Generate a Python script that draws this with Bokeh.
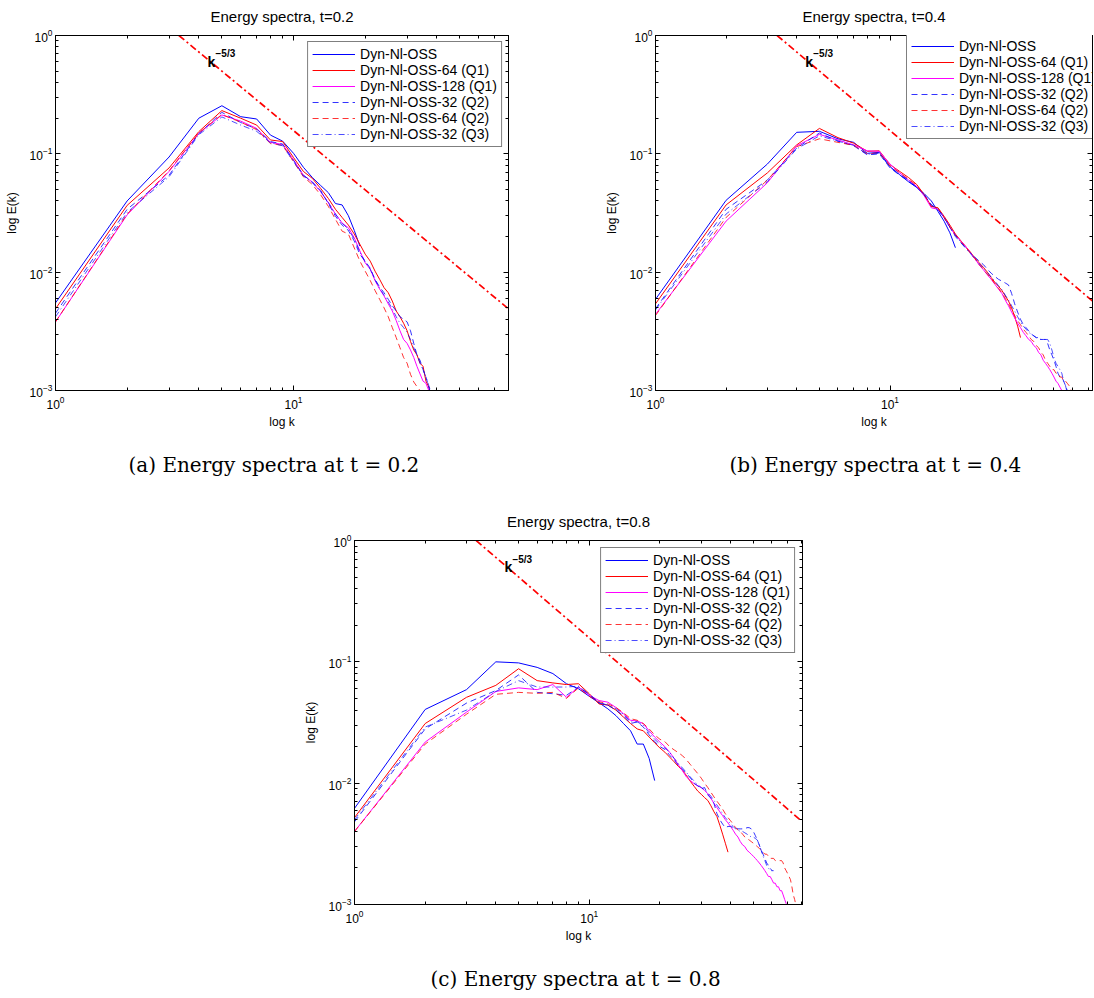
from bokeh.plotting import figure
from bokeh.models import (Range1d, FixedTicker, LogAxis, LogTicker, LogTickFormatter, Title, Spacer,
                          CustomJSTickFormatter)
from bokeh.layouts import column, row
from bokeh.core.properties import value
from bokeh.embed import file_html
from bokeh.resources import INLINE

# ---------------- data ----------------
series_labels = ["Dyn-Nl-OSS", "Dyn-Nl-OSS-64 (Q1)", "Dyn-Nl-OSS-128 (Q1)",
                 "Dyn-Nl-OSS-32 (Q2)", "Dyn-Nl-OSS-64 (Q2)", "Dyn-Nl-OSS-32 (Q3)"]
panel_titles = ["Energy spectra, t=0.2", "Energy spectra, t=0.4", "Energy spectra, t=0.8"]
panel_captions = ["(a)  Energy spectra at t = 0.2", "(b)  Energy spectra at t = 0.4",
                  "(c)  Energy spectra at t = 0.8"]

x_major = [1, 10]
x_minor = [2, 3, 4, 5, 6, 7, 8, 9, 20, 30, 40, 50, 60, 70, 80]
y_major = [0.001, 0.01, 0.1, 1]
y_minor = [0.002, 0.003, 0.004, 0.005, 0.006, 0.007, 0.008, 0.009,
           0.02, 0.03, 0.04, 0.05, 0.06, 0.07, 0.08, 0.09,
           0.2, 0.3, 0.4, 0.5, 0.6, 0.7, 0.8, 0.9]

# k^-5/3 reference line endpoints and its label position
ref_k = [3.3, 80]
ref_E = [1.0, 0.0049]
lab_k = [4.35]
lab_E = [0.6]

# t = 0.2  (E(k) for k = 1, 2, 3, ...)
a_oss = [0.0055, 0.040, 0.094, 0.20, 0.255, 0.206, 0.197, 0.144, 0.128, 0.101, 0.077, 0.063,
         0.054, 0.047, 0.038, 0.037, 0.030, 0.0225, 0.0166]
a_q1_64 = [0.0049, 0.0367, 0.076, 0.154, 0.232, 0.20, 0.175, 0.131, 0.127, 0.093, 0.071, 0.062,
           0.051, 0.042, 0.034, 0.029, 0.025, 0.021, 0.0172, 0.0142, 0.0124, 0.0102, 0.0087,
           0.0074, 0.0067, 0.0057, 0.0047, 0.0042, 0.0037, 0.0032, 0.0026, 0.0022, 0.0020,
           0.0017, 0.0016, 0.0012, 0.00107, 0.00085]
a_q1_128 = [0.0038, 0.0305, 0.071, 0.149, 0.213, 0.189, 0.164, 0.125, 0.120, 0.089, 0.066, 0.0575,
            0.048, 0.0385, 0.031, 0.026, 0.0237, 0.0195, 0.0151, 0.012, 0.0106, 0.0085, 0.0072,
            0.0063, 0.0054, 0.0047, 0.0039, 0.0032, 0.0027, 0.0025, 0.0022, 0.0019, 0.0016,
            0.00138, 0.0012, 0.00115, 0.0010, 0.00085]
a_q2_32 = [0.0045, 0.034, 0.066, 0.148, 0.224, 0.184, 0.162, 0.127, 0.121, 0.088, 0.066, 0.058,
           0.049, 0.038, 0.0297, 0.025, 0.0225, 0.0183, 0.0141, 0.0124, 0.0108, 0.0087, 0.0075,
           0.0067, 0.0059, 0.0052, 0.0047, 0.0042, 0.0040, 0.0038, 0.0032, 0.0025, 0.0020,
           0.0018, 0.0015, 0.0013, 0.00107, 0.0009]
a_q2_64 = [0.0038, 0.031, 0.072, 0.150, 0.215, 0.185, 0.160, 0.122, 0.118, 0.086, 0.064, 0.055,
           0.045, 0.036, 0.028, 0.0222, 0.021, 0.016, 0.0124, 0.0102, 0.0085, 0.0070, 0.0059,
           0.0050, 0.0042, 0.0034, 0.0028, 0.0023, 0.0019, 0.0017, 0.00137, 0.00118, 0.00108,
           0.00100, 0.0009]
a_q3_32 = [0.0042, 0.032, 0.064, 0.145, 0.205, 0.175, 0.155, 0.124, 0.117, 0.086, 0.065, 0.057,
           0.048, 0.039, 0.031, 0.026, 0.023, 0.019, 0.0148, 0.0122, 0.0106, 0.0086, 0.0073,
           0.0064, 0.0056, 0.0049, 0.0042, 0.0037, 0.0034, 0.0031, 0.0027, 0.0023, 0.0020,
           0.0017, 0.0015, 0.0013, 0.0011, 0.00095]

# t = 0.4
b_oss = [0.0059, 0.0405, 0.082, 0.152, 0.155, 0.134, 0.125, 0.101, 0.103, 0.078, 0.0665, 0.058,
         0.052, 0.046, 0.040, 0.0327, 0.027, 0.0215, 0.0161]
b_q1_64 = [0.0054, 0.037, 0.069, 0.119, 0.164, 0.137, 0.123, 0.105, 0.106, 0.081, 0.071, 0.063,
           0.055, 0.045, 0.036, 0.035, 0.0297, 0.025, 0.021, 0.0185, 0.0165, 0.0148, 0.0132,
           0.0120, 0.0110, 0.0100, 0.0090, 0.0082, 0.0076, 0.0070, 0.0063, 0.0057, 0.0050,
           0.0042, 0.0035, 0.0028]
b_q1_128 = [0.0044, 0.027, 0.057, 0.117, 0.146, 0.131, 0.119, 0.106, 0.105, 0.082, 0.069, 0.060,
            0.053, 0.044, 0.035, 0.034, 0.029, 0.024, 0.0205, 0.0185, 0.0165, 0.0146, 0.013,
            0.0115, 0.0105, 0.0095, 0.0087, 0.0079, 0.0072, 0.0066, 0.0058, 0.0052, 0.0046,
            0.0041, 0.0037, 0.0034, 0.0031, 0.0029, 0.0027, 0.0026, 0.0024, 0.0023, 0.0021,
            0.0020, 0.0018, 0.0017, 0.0016, 0.0015, 0.0014, 0.0013, 0.0012, 0.00115, 0.00107,
            0.0010, 0.00093]
b_q2_32 = [0.0049, 0.034, 0.060, 0.112, 0.150, 0.128, 0.117, 0.098, 0.100, 0.076, 0.066, 0.059,
           0.052, 0.045, 0.037, 0.034, 0.029, 0.024, 0.020, 0.0178, 0.016, 0.0146, 0.0134,
           0.0124, 0.0116, 0.0106, 0.0098, 0.0092, 0.0087, 0.0084, 0.0081, 0.0078, 0.0066,
           0.0054, 0.0046, 0.0040, 0.0036, 0.0034, 0.0032, 0.0030, 0.0029, 0.0028, 0.0027,
           0.0027, 0.0027, 0.0027, 0.0025, 0.0022, 0.0020, 0.0018, 0.0016, 0.0014, 0.0013,
           0.0013, 0.0012, 0.0011, 0.0010, 0.0009]
b_q2_64 = [0.0043, 0.029, 0.060, 0.115, 0.134, 0.125, 0.118, 0.100, 0.102, 0.079, 0.069, 0.061,
           0.054, 0.045, 0.036, 0.035, 0.029, 0.024, 0.0205, 0.0183, 0.0163, 0.0145, 0.013,
           0.0116, 0.0106, 0.0096, 0.0088, 0.008, 0.0073, 0.0067, 0.006, 0.0054, 0.0048,
           0.0043, 0.0039, 0.0036, 0.0033, 0.0031, 0.0029, 0.0027, 0.0026, 0.0024, 0.0023,
           0.0021, 0.0020, 0.0018, 0.0017, 0.0016, 0.0015, 0.0015, 0.0014, 0.0014, 0.0013,
           0.0013, 0.0012, 0.0012, 0.00115, 0.0011, 0.00102, 0.00095, 0.0009]
b_q3_32 = [0.0048, 0.031, 0.058, 0.110, 0.142, 0.128, 0.118, 0.099, 0.101, 0.077, 0.067, 0.060,
           0.052, 0.045, 0.037, 0.034, 0.029, 0.024, 0.0205, 0.018, 0.016, 0.0144, 0.013,
           0.0118, 0.0108, 0.0099, 0.0091, 0.0084, 0.0077, 0.0071, 0.0064, 0.0058, 0.0052,
           0.0047, 0.0042, 0.0038, 0.0035, 0.0033, 0.0031, 0.003, 0.0029, 0.0028, 0.0028,
           0.0027, 0.0027, 0.0027, 0.0027, 0.0025, 0.0022, 0.0019, 0.0017, 0.0016, 0.0015,
           0.0014, 0.0012, 0.0011, 0.00095]

# t = 0.8
c_oss = [0.0062, 0.0405, 0.059, 0.100, 0.098, 0.090, 0.080, 0.066, 0.060, 0.052, 0.046, 0.041,
         0.036, 0.031, 0.027, 0.021, 0.021, 0.016, 0.0105]
c_q1_64 = [0.0052, 0.031, 0.051, 0.064, 0.0877, 0.070, 0.067, 0.065, 0.066, 0.0546, 0.045, 0.044,
           0.040, 0.035, 0.031, 0.028, 0.027, 0.024, 0.0215, 0.0195, 0.018, 0.0164, 0.015,
           0.0137, 0.0127, 0.0115, 0.0103, 0.0094, 0.0086, 0.0081, 0.0076, 0.0072, 0.0065,
           0.0058, 0.0053, 0.0045, 0.0038, 0.0032, 0.0027]
c_q1_128 = [0.0040, 0.0218, 0.0385, 0.057, 0.061, 0.059, 0.065, 0.051, 0.062, 0.053, 0.048, 0.0465,
            0.042, 0.0373, 0.033, 0.0325, 0.031, 0.027, 0.024, 0.0218, 0.020, 0.018, 0.016,
            0.0141, 0.0126, 0.0112, 0.0105, 0.0099, 0.0095, 0.0092, 0.0087, 0.0082, 0.0075,
            0.0068, 0.0063, 0.0058, 0.0054, 0.0050, 0.0047, 0.0044, 0.0041, 0.0038, 0.0036,
            0.0033, 0.0031, 0.0030, 0.0028, 0.0027, 0.0026, 0.0025, 0.0024, 0.0023, 0.0022,
            0.0021, 0.0020, 0.0019, 0.0018, 0.0017, 0.0017, 0.0016, 0.0015, 0.0015, 0.0014,
            0.0014, 0.0013, 0.0013, 0.0012, 0.0011, 0.00102, 0.00095]
c_q2_32 = [0.0048, 0.028, 0.0457, 0.058, 0.078, 0.056, 0.0546, 0.053, 0.062, 0.054, 0.046, 0.044,
           0.040, 0.036, 0.031, 0.032, 0.029, 0.025, 0.022, 0.020, 0.019, 0.017, 0.0155, 0.014,
           0.013, 0.012, 0.011, 0.010, 0.0095, 0.009, 0.0092, 0.008, 0.0075, 0.0068, 0.0056,
           0.0050, 0.0046, 0.0043, 0.0044, 0.0044, 0.0043, 0.0043, 0.0042, 0.0042, 0.0042,
           0.0042, 0.0043, 0.0043, 0.0042, 0.0040, 0.0037, 0.0034, 0.0031, 0.0028, 0.0026,
           0.0024, 0.0022, 0.0021, 0.0020, 0.0019, 0.0019]
c_q2_64 = [0.0040, 0.021, 0.037, 0.054, 0.056, 0.055, 0.056, 0.050, 0.061, 0.052, 0.047, 0.045,
           0.042, 0.038, 0.034, 0.033, 0.031, 0.028, 0.025, 0.023, 0.022, 0.020, 0.0188, 0.0178,
           0.0168, 0.0155, 0.0142, 0.013, 0.012, 0.011, 0.010, 0.0092, 0.0084, 0.0077, 0.0071,
           0.0066, 0.0061, 0.0056, 0.0052, 0.0049, 0.0046, 0.0043, 0.0041, 0.0040, 0.0038,
           0.0036, 0.0035, 0.0034, 0.0033, 0.0032, 0.0031, 0.0030, 0.0029, 0.0028, 0.0027,
           0.0026, 0.0026, 0.0025, 0.0024, 0.0024, 0.0024, 0.0023, 0.0023, 0.0023, 0.0023,
           0.0023, 0.0022, 0.0020, 0.0019, 0.0018, 0.0017, 0.0016, 0.0014, 0.0012, 0.0011, 0.00098]
c_q3_32 = [0.0050, 0.029, 0.040, 0.057, 0.070, 0.062, 0.062, 0.062, 0.063, 0.054, 0.046, 0.044,
           0.041, 0.037, 0.032, 0.032, 0.030, 0.026, 0.023, 0.021, 0.0195, 0.018, 0.016, 0.0145,
           0.0133, 0.0122, 0.0112, 0.0104, 0.0097, 0.0092, 0.0088, 0.0083, 0.0078, 0.0072,
           0.0066, 0.0061, 0.0056, 0.0052, 0.0049, 0.0046, 0.0044, 0.0042, 0.0041, 0.0040,
           0.0040, 0.0039, 0.0038, 0.0037, 0.0036, 0.0036, 0.0035, 0.0034, 0.0031, 0.0028,
           0.0025, 0.0023, 0.0021, 0.0020, 0.0019, 0.0019]

# ---------------- styling ----------------
SANS = "Liberation Sans"
SERIF = "DejaVu Serif"
styles = [
    dict(color="#0000ff", line_dash="solid", line_alpha=1.0),
    dict(color="#ff0000", line_dash="solid", line_alpha=1.0),
    dict(color="#ff00ff", line_dash="solid", line_alpha=1.0),
    dict(color="#0000ff", line_dash="6 4", line_alpha=0.8),
    dict(color="#ff0000", line_dash="6 4", line_alpha=0.8),
    dict(color="#0000ff", line_dash="6 3 1 3", line_alpha=0.7),
]


def make_panel(series, title, caption, cap_offset, cap_pad, x_end, width, height, borders,
               legend_loc, legend_margin):
    bl, br, bt, bb = borders
    p = figure(width=width, height=height, x_axis_type="log", y_axis_type="log",
               x_range=Range1d(1, x_end), y_range=Range1d(0.001, 1),
               output_backend="svg", toolbar_location=None,
               min_border_left=bl, min_border_right=br, min_border_top=bt, min_border_bottom=bb)
    p.grid.visible = False
    p.outline_line_color = "black"
    p.outline_line_width = 1
    p.background_fill_color = "white"
    p.border_fill_color = "white"

    p.title.text = title
    p.title.align = "center"
    p.title.text_font = SANS
    p.title.text_font_size = "15px"
    p.title.text_font_style = "normal"
    p.title.text_color = "black"
    p.title.padding = dict(left=0, right=0, top=0, bottom=6)

    xt = FixedTicker(ticks=x_major, minor_ticks=x_minor)
    yt = FixedTicker(ticks=y_major, minor_ticks=y_minor)
    for ax, tk in ((p.xaxis[0], xt), (p.yaxis[0], yt)):
        ax.ticker = tk
        ax.formatter = LogTickFormatter(ticker=LogTicker())
        ax.major_tick_in = 5
        ax.major_tick_out = 0
        ax.minor_tick_in = 3
        ax.minor_tick_out = 0
        ax.axis_line_color = "black"
        ax.major_label_text_font = SANS
        ax.major_label_text_font_size = "12px"
        ax.major_label_text_color = "black"
        ax.axis_label_text_font = SANS
        ax.axis_label_text_font_size = "12px"
        ax.axis_label_text_font_style = "normal"
        ax.axis_label_text_color = "black"
    p.xaxis[0].axis_label = "log k"
    p.yaxis[0].axis_label = "log E(k)"
    p.xaxis[0].major_label_standoff = 5
    p.xaxis[0].axis_label_standoff = 3
    p.yaxis[0].major_label_standoff = 3
    p.yaxis[0].axis_label_standoff = 8

    for loc, tk in (("right", yt), ("above", xt)):
        ax = LogAxis(ticker=tk, major_tick_in=5, major_tick_out=0, minor_tick_in=3,
                     minor_tick_out=0, formatter=CustomJSTickFormatter(code="return ''"),
                     major_label_standoff=0, axis_line_color="black")
        p.add_layout(ax, loc)

    # reference slope
    p.line(ref_k, ref_E, color="#ff0000", line_width=1.7, line_dash="7 3 2 3")
    p.text(x=lab_k, y=lab_E, text=["k"], text_font=value(SANS), text_font_style="bold",
           text_font_size="14px", text_baseline="alphabetic", text_align="left", color="black")
    p.text(x=lab_k, y=lab_E, text=["\u22125/3"], text_font=value(SANS), text_font_style="bold",
           text_font_size="10px", text_baseline="alphabetic", text_align="left", color="black",
           x_offset=8, y_offset=-8)

    for E, lab, st in zip(series, series_labels, styles):
        k = list(range(1, len(E) + 1))
        p.line(k, E, line_width=1, legend_label=lab, **st)

    lg = p.legend[0]
    lg.location = legend_loc
    lg.margin = legend_margin
    lg.border_line_color = "black"
    lg.border_line_width = 1
    lg.background_fill_color = "white"
    lg.background_fill_alpha = 1
    lg.label_text_font = SANS
    lg.label_text_font_size = "14px"
    lg.label_text_color = "black"
    lg.glyph_width = 43
    lg.glyph_height = 16
    lg.label_height = 16
    lg.spacing = 0
    lg.padding = 4
    lg.label_standoff = 5

    cap = Title(text=caption, align="left", offset=cap_offset, text_font=SERIF,
                text_font_size="20px", text_font_style="normal", text_color="black",
                padding=dict(left=0, right=0, top=cap_pad, bottom=0))
    p.add_layout(cap, "below")
    return p


pa = make_panel([a_oss, a_q1_64, a_q1_128, a_q2_32, a_q2_64, a_q3_32], panel_titles[0],
                panel_captions[0], 73, 14, 80, 601, 482, (55, 93, 33, 92), "top_right", 6)
pb = make_panel([b_oss, b_q1_64, b_q1_128, b_q2_32, b_q2_64, b_q3_32], panel_titles[1],
                panel_captions[1], 74, 14, 73, 492, 482, (47, 1, 33, 92), (251, 251), 6)
pc = make_panel([c_oss, c_q1_64, c_q1_128, c_q2_32, c_q2_64, c_q3_32], panel_titles[2],
                panel_captions[2], 76, 14, 81, 595, 514, (47, 93, 58, 92), "top_right", 7)

layout = column(row(pa, pb), row(Spacer(width=300, height=514), pc))
open("out.html", "w").write(file_html(layout, INLINE))
